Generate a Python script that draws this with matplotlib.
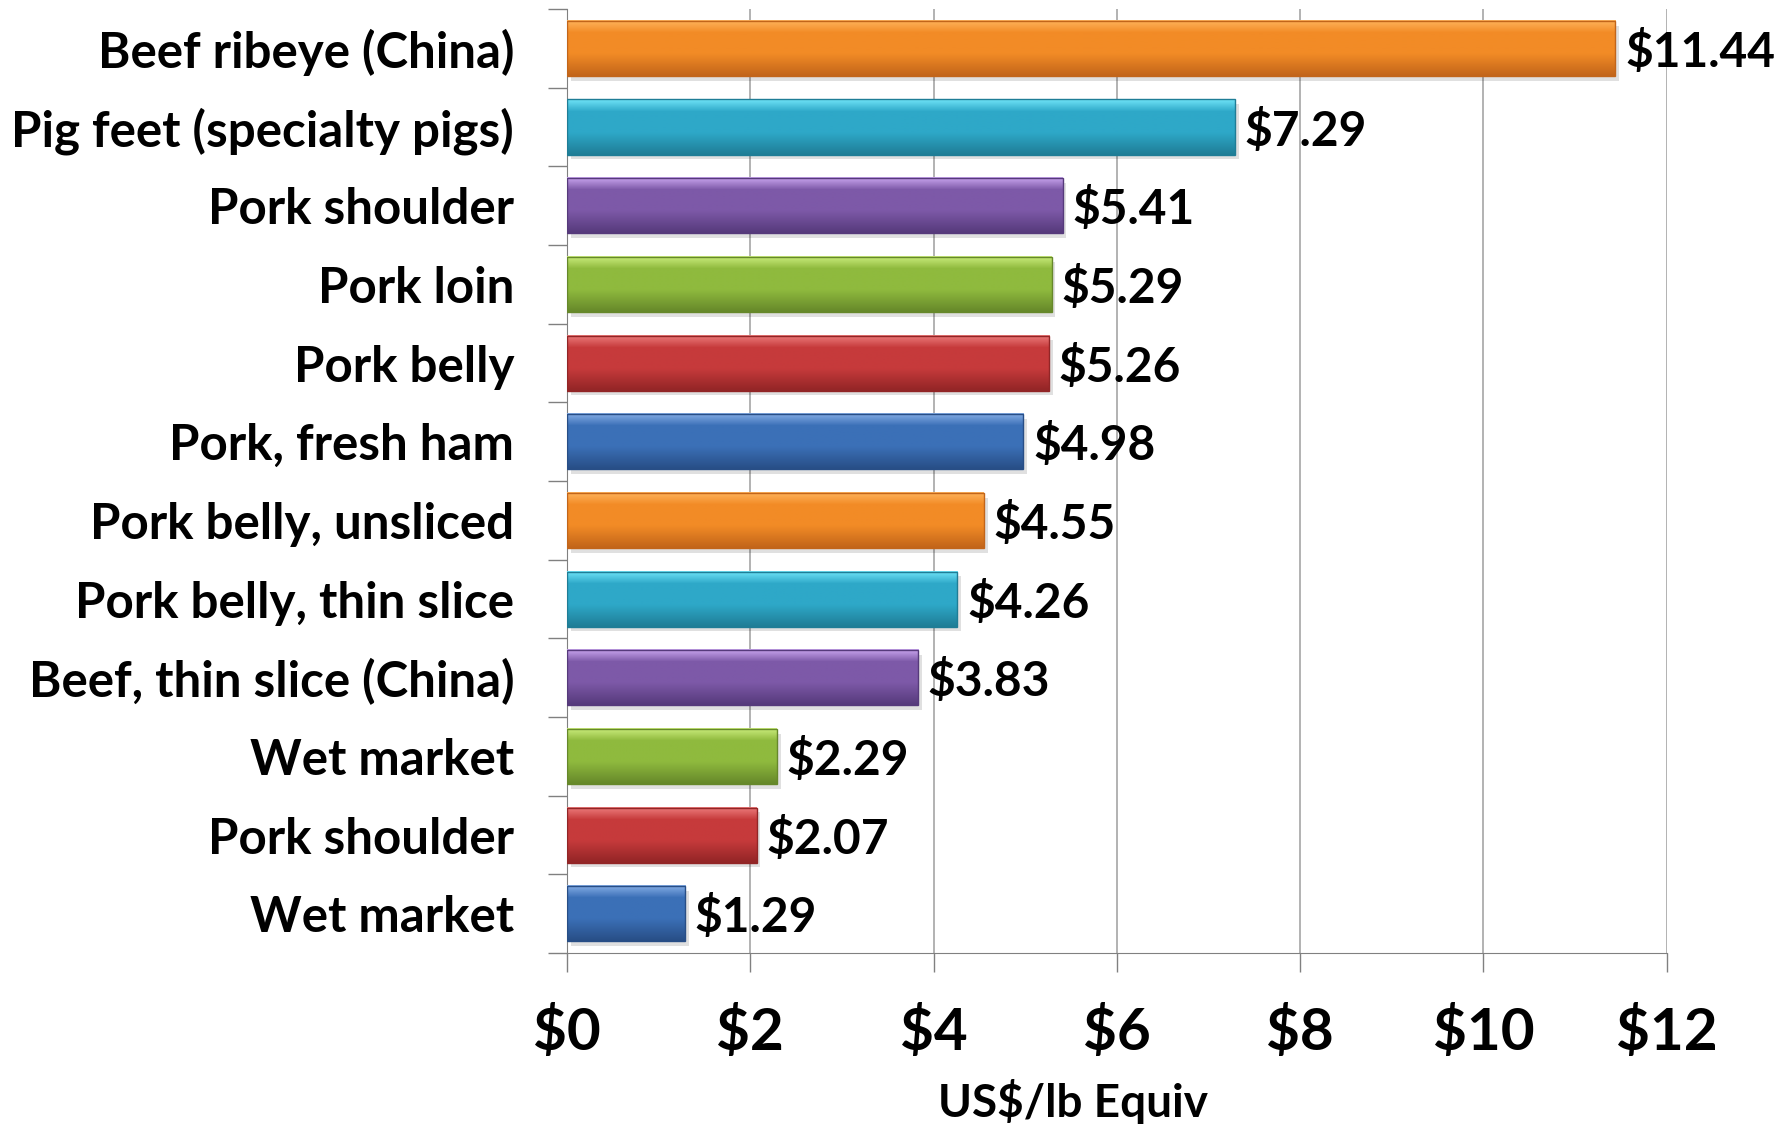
import matplotlib.pyplot as plt
import numpy as np
from matplotlib.colors import to_rgb

# data, top to bottom as shown
labels = ['Beef ribeye (China)', 'Pig feet (specialty pigs)', 'Pork shoulder', 'Pork loin',
          'Pork belly', 'Pork, fresh ham', 'Pork belly, unsliced', 'Pork belly, thin slice',
          'Beef, thin slice (China)', 'Wet market', 'Pork shoulder', 'Wet market']
values = [11.44, 7.29, 5.41, 5.29, 5.26, 4.98, 4.55, 4.26, 3.83, 2.29, 2.07, 1.29]
xticks = [0, 2, 4, 6, 8, 10, 12]

# office-like palette: (highlight, base, dark)
palette = {
    'orange': ('#ffb45c', '#f28b26', '#c2651a'),
    'teal': ('#6fe3f7', '#2ea8c8', '#1f7d96'),
    'purple': ('#caa6ef', '#7d59a8', '#563a7b'),
    'green': ('#cbec7c', '#8fba3e', '#66882a'),
    'red': ('#ec7c7c', '#c63a3b', '#922526'),
    'blue': ('#86aee6', '#3b70b7', '#284e86'),
}
color_order = ['orange', 'teal', 'purple', 'green', 'red', 'blue'] * 2

plt.rcParams['font.family'] = ['Lato', 'DejaVu Sans']
plt.rcParams['font.weight'] = 'bold'

fig = plt.figure(figsize=(17.92, 11.24), dpi=100)
ax = fig.add_axes([0.3164, 0.152, 0.6137, 0.840])

y = np.arange(len(labels))
h = 0.70

def gradient(name):
    hi, base, dk = [np.array(to_rgb(c)) for c in palette[name]]
    t = np.linspace(0, 1, 60)
    rows = []
    for v in t:
        if v < 0.22:
            c = hi + (base - hi) * (v / 0.22)
        elif v < 0.6:
            c = base
        else:
            c = base + (dk - base) * ((v - 0.6) / 0.4)
        rows.append(c)
    return np.array(rows).reshape(60, 1, 3)

# soft shadow
ax.barh(y + 0.06, values, height=h, left=0.04, color='#000000', alpha=0.12, zorder=2)
for yi, v, cname in zip(y, values, color_order):
    ax.imshow(gradient(cname), extent=(0, v, yi + h / 2, yi - h / 2),
              aspect='auto', zorder=3, interpolation='bilinear')
    ax.barh(yi, v, height=h, color='none', edgecolor=palette[cname][2], linewidth=1.0, zorder=4)
    ax.annotate(f'${v:.2f}', (v, yi), xytext=(7, -3), textcoords='offset points',
                va='center', ha='left', fontsize=34.5, fontweight='bold', color='black')

ax.set_xlim(0, 12)
ax.set_ylim(len(labels) - 0.5, -0.5)

ax.set_xticks(xticks)
ax.set_xticklabels([f'${t}' for t in xticks], fontsize=42, fontweight='bold')
ax.tick_params(axis='x', direction='out', length=14, width=1, color='#808080', pad=24)
ax.xaxis.grid(True, color='#a6a6a6', linewidth=1.2, zorder=0)
ax.set_axisbelow(True)

ax.set_yticks(y)
ax.set_yticklabels(labels, fontsize=35.5, fontweight='bold')
ax.tick_params(axis='y', which='major', length=0, pad=38)
ax.set_yticks(np.arange(-0.5, len(labels), 1), minor=True)
ax.tick_params(axis='y', which='minor', direction='out', length=14, width=1, color='#808080')

for s in ['top', 'right']:
    ax.spines[s].set_visible(False)
ax.spines['left'].set_color('#808080')
ax.spines['bottom'].set_color('#808080')

ax.set_xlabel('US$/lb Equiv', fontsize=33, fontweight='bold', labelpad=2)
ax.xaxis.set_label_coords(0.46, -0.133)

plt.savefig('out.png', dpi=100)
